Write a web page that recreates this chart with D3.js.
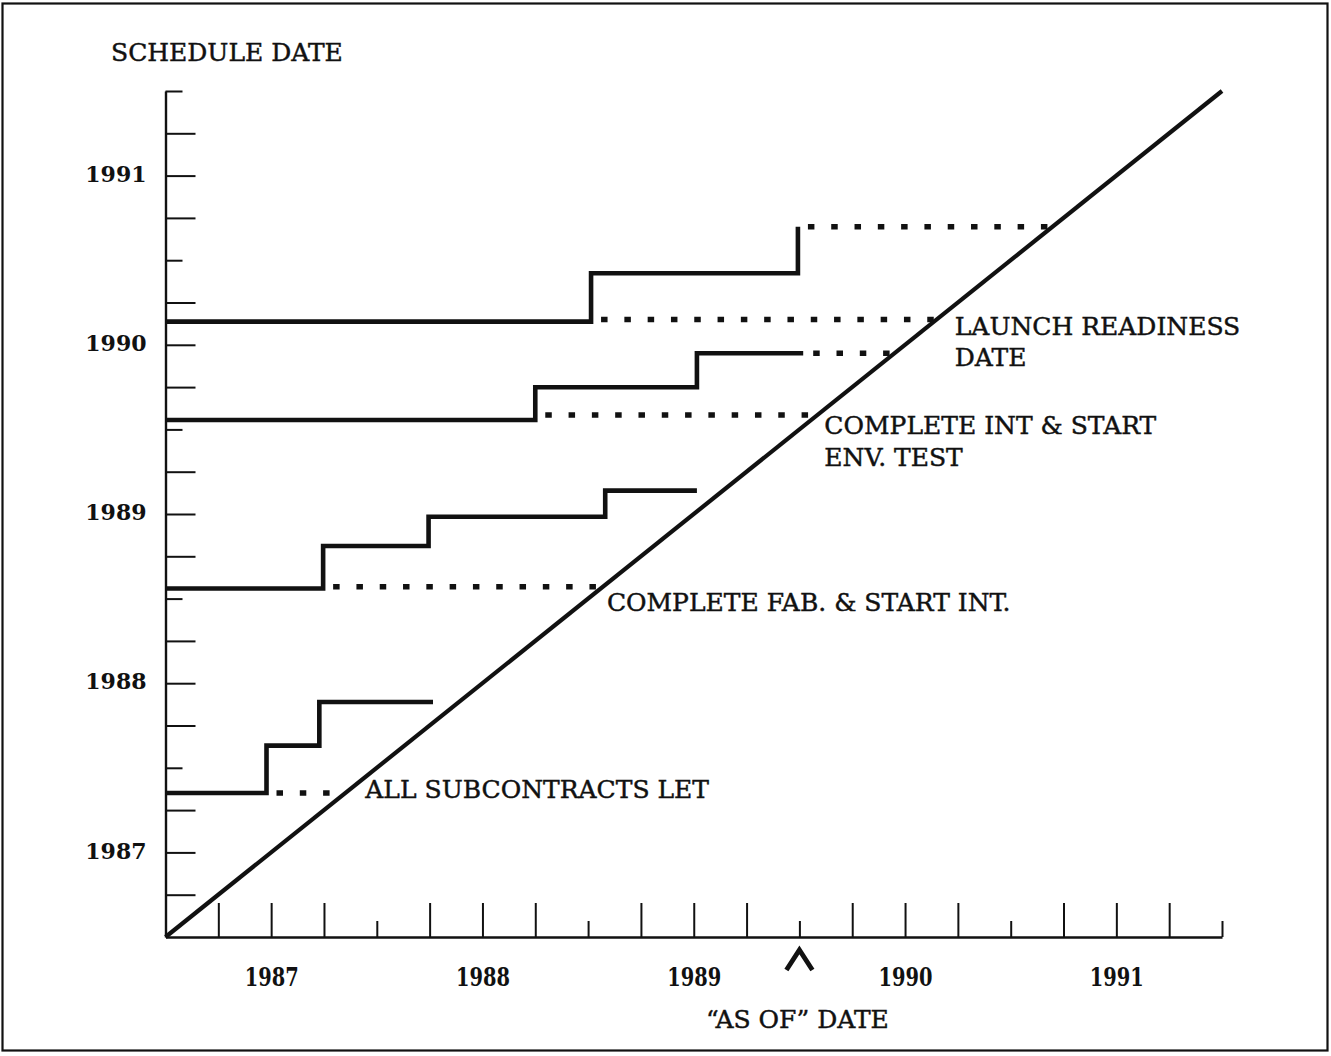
<!DOCTYPE html>
<html>
<head>
<meta charset="utf-8">
<script src="https://cdn.jsdelivr.net/npm/d3@7"></script>
<style>
  html, body { margin: 0; padding: 0; background: #fff; }
  svg { display: block; }
</style>
</head>
<body>
<svg id="chart" width="1331" height="1056"></svg>
<script>
// Schedule-slip chart: each milestone's forecast date plotted against the
// date of the status report ("as of" date). Solid steps are the forecast
// history; dotted runs carry a superseded date forward to the diagonal.

const yearLabels = [1987, 1988, 1989, 1990, 1991];
const axisStart = 1987;
const axisEnd = 1992;
const asOfDate = 1990.0;

const milestoneLabels = [
  ["ALL SUBCONTRACTS LET"],
  ["COMPLETE FAB. & START INT."],
  ["COMPLETE INT & START", "ENV. TEST"],
  ["LAUNCH READINESS", "DATE"]
];

// [as-of date, scheduled date] for each forecast revision
const subcontractsHistory = [[1987.0, 1987.851], [1987.478, 1988.131], [1987.728, 1988.389], [1988.266, 1988.389]];
const fabricationHistory  = [[1987.0, 1989.06], [1987.746, 1989.311], [1988.245, 1989.484], [1989.081, 1989.638], [1989.515, 1989.638]];
const integrationHistory  = [[1987.0, 1990.056], [1988.75, 1990.249], [1989.515, 1990.45], [1990.018, 1990.45]];
const launchHistory       = [[1987.0, 1990.637], [1989.014, 1990.923], [1989.993, 1991.198]];

// [as-of date the date was superseded, superseded scheduled date]
const subcontractsSlips = [[1987.478, 1987.851]];
const fabricationSlips  = [[1987.746, 1989.07]];
const integrationSlips  = [[1988.75, 1990.085], [1990.018, 1990.45]];
const launchSlips       = [[1989.014, 1990.65], [1989.993, 1991.198]];

const histories = [subcontractsHistory, fabricationHistory, integrationHistory, launchHistory];
const slips = [subcontractsSlips, fabricationSlips, integrationSlips, launchSlips];

// label placement, offset in pixels from where the first slip meets the diagonal
const labelOffsets = [
  { dx: 20, dy: 5, lead: 0 },
  { dx: 4, dy: 24, lead: 0 },
  { dx: 7, dy: 19, lead: 32 },
  { dx: 18, dy: 16, lead: 31 }
];

const svg = d3.select("#chart");
const ink = "#111";
const serif = "'DejaVu Serif', serif";

const x = d3.scaleLinear().domain([axisStart, axisEnd]).range([165.5, 1222]);
const y = d3.scaleLinear().domain([axisStart, axisEnd]).range([937, 91]);

const quarters = d3.range(axisStart + 0.25, axisEnd + 0.001, 0.25);
const isYearStart = d => Math.abs(d - Math.round(d)) < 1e-6;
const yearAtMid = d => {
  const yr = Math.floor(d);
  return (Math.abs(d - yr - 0.5) < 1e-6 && yearLabels.includes(yr)) ? String(yr) : "";
};

// heavier setting for the body text
const bodyText = sel => sel
  .attr("font-family", serif).attr("font-size", 25)
  .attr("fill", ink).attr("stroke", ink).attr("stroke-width", 0.45);

// page frame
svg.append("rect")
  .attr("x", 2.5).attr("y", 3.5).attr("width", 1325).attr("height", 1047)
  .attr("fill", "none").attr("stroke", ink).attr("stroke-width", 2.2);

// x axis ("as of" date), ticks pointing up into the plot
const gx = svg.append("g")
  .attr("transform", `translate(0,${y(axisStart)})`)
  .call(d3.axisBottom(x).tickValues(quarters).tickSize(-34).tickSizeOuter(0)
    .tickPadding(31).tickFormat(yearAtMid));
gx.select(".domain").attr("stroke", ink).attr("stroke-width", 2.4);
gx.selectAll(".tick line").attr("stroke", ink).attr("stroke-width", 2)
  .attr("y2", d => isYearStart(d) ? -16 : -34);
gx.selectAll(".tick text")
  .attr("fill", ink).attr("font-family", serif).attr("font-weight", "bold")
  .attr("font-size", 26)
  .each(function () { if (this.textContent) d3.select(this).attr("textLength", 54).attr("lengthAdjust", "spacingAndGlyphs"); });

// y axis (schedule date), ticks pointing right into the plot
const gy = svg.append("g")
  .attr("transform", `translate(${x(axisStart)},0)`)
  .call(d3.axisLeft(y).tickValues(quarters).tickSize(-30).tickSizeOuter(0)
    .tickPadding(19).tickFormat(yearAtMid));
gy.select(".domain").attr("stroke", ink).attr("stroke-width", 2.4);
gy.selectAll(".tick line").attr("stroke", ink).attr("stroke-width", 2)
  .attr("x2", d => isYearStart(d) ? 17 : 30);
gy.selectAll(".tick text")
  .attr("fill", ink).attr("font-family", serif).attr("font-weight", "bold")
  .attr("font-size", 22).attr("dy", "0.26em");

// diagonal: schedule date equals the as-of date
svg.append("line")
  .attr("x1", x(axisStart)).attr("y1", y(axisStart))
  .attr("x2", x(axisEnd)).attr("y2", y(axisEnd))
  .attr("stroke", ink).attr("stroke-width", 4.2);

const stepLine = d3.line().x(d => x(d[0])).y(d => y(d[1])).curve(d3.curveStepAfter);
const flatLine = d3.line().x(d => x(d[0])).y(d => y(d[1]));

// forecast histories
svg.append("g").selectAll("path")
  .data(histories)
  .join("path")
  .attr("d", stepLine)
  .attr("fill", "none").attr("stroke", ink).attr("stroke-width", 4.6)
  .attr("stroke-linejoin", "miter");

// superseded dates carried forward to the diagonal
svg.append("g").selectAll("path")
  .data(slips.flat())
  .join("path")
  .attr("d", d => flatLine([[d[0], d[1]], [d[1], d[1]]]))
  .attr("fill", "none").attr("stroke", ink).attr("stroke-width", 5.5)
  .attr("stroke-dasharray", "6.5 16.8").attr("stroke-dashoffset", 13.3);

// milestone labels
milestoneLabels.forEach((lines, i) => {
  const level = slips[i][0][1];
  const o = labelOffsets[i];
  const t = svg.append("text")
    .attr("x", x(level) + o.dx).attr("y", y(level) + o.dy)
    .call(bodyText);
  lines.forEach((line, j) => {
    t.append("tspan")
      .attr("x", x(level) + o.dx)
      .attr("y", y(level) + o.dy + j * o.lead)
      .text(line);
  });
});

// axis titles
svg.append("text")
  .attr("x", 111).attr("y", 61)
  .call(bodyText)
  .text("SCHEDULE DATE");

svg.append("text")
  .attr("x", x(asOfDate) - 2).attr("y", 1028)
  .attr("text-anchor", "middle")
  .call(bodyText)
  .text("\u201CAS OF\u201D DATE");

// caret marking the current as-of date
const cx = x(asOfDate);
svg.append("path")
  .attr("d", `M${cx - 13},${970} L${cx},${950} L${cx + 13},${970}`)
  .attr("fill", "none").attr("stroke", ink).attr("stroke-width", 4.8)
  .attr("stroke-linejoin", "miter").attr("stroke-linecap", "butt");
</script>
</body>
</html>
